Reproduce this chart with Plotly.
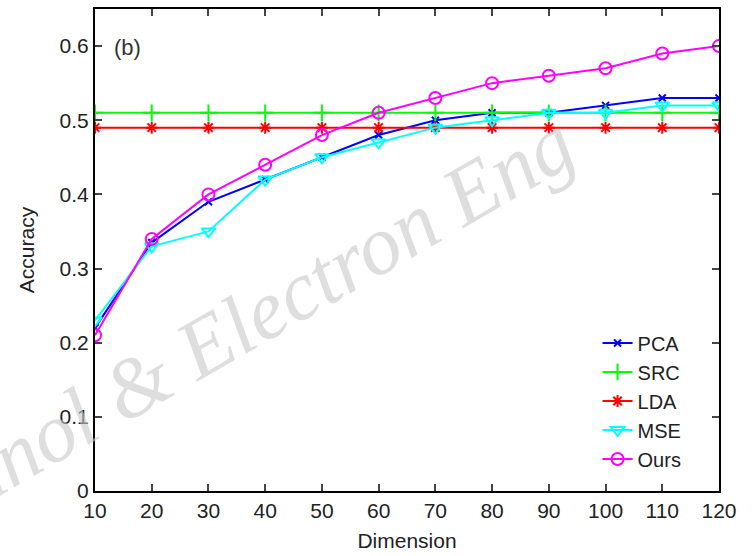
import plotly.graph_objects as go

dimension = [10, 20, 30, 40, 50, 60, 70, 80, 90, 100, 110, 120]
pca = [0.22, 0.335, 0.39, 0.42, 0.45, 0.48, 0.50, 0.51, 0.51, 0.52, 0.53, 0.53]
src = [0.51] * 12
lda = [0.49] * 12
mse = [0.23, 0.33, 0.35, 0.42, 0.45, 0.47, 0.49, 0.50, 0.51, 0.51, 0.52, 0.52]
ours = [0.21, 0.34, 0.40, 0.44, 0.48, 0.51, 0.53, 0.55, 0.56, 0.57, 0.59, 0.60]

x_ticks = dimension
y_ticks = [0, 0.1, 0.2, 0.3, 0.4, 0.5, 0.6]
y_tick_text = ["0", "0.1", "0.2", "0.3", "0.4", "0.5", "0.6"]

series = [
    ("PCA", pca, "#0000FF", "x-thin-open", 7),
    ("SRC", src, "#00FF00", "cross-thin-open", 12),
    ("LDA", lda, "#FF0000", "asterisk-open", 10),
    ("MSE", mse, "#00FFFF", "triangle-down-open", 12),
    ("Ours", ours, "#FF00FF", "circle-open", 12),
]

fig = go.Figure()
for name, vals, color, sym, size in series:
    fig.add_trace(go.Scatter(
        x=dimension, y=vals, name=name, mode="lines+markers",
        line=dict(color=color, width=2),
        marker=dict(symbol=sym, size=size, color=color, line=dict(color=color, width=2)),
    ))

font_family = "Liberation Sans, Arial, sans-serif"

fig.update_layout(
    width=753, height=556,
    margin=dict(l=95, r=34, t=7, b=65),
    paper_bgcolor="white", plot_bgcolor="white",
    font=dict(family=font_family, size=21, color="#222222"),
    xaxis=dict(
        range=[10, 120], tickvals=x_ticks, ticks="inside", ticklen=7, tickwidth=2,
        showline=True, linecolor="black", linewidth=2, mirror="ticks",
        showgrid=False, zeroline=False,
        title=dict(text="Dimension", font=dict(size=21), standoff=12),
        tickfont=dict(size=21),
    ),
    yaxis=dict(
        range=[0, 0.65], tickvals=y_ticks, ticktext=y_tick_text, ticks="inside",
        ticklen=7, tickwidth=2,
        showline=True, linecolor="black", linewidth=2, mirror="ticks",
        showgrid=False, zeroline=False,
        title=dict(text="Accuracy", font=dict(size=21), standoff=19),
        tickfont=dict(size=21),
    ),
    legend=dict(
        x=0.948, y=0.026, xanchor="right", yanchor="bottom",
        bgcolor="rgba(255,255,255,0)", font=dict(size=20, color="#222222"),
        tracegroupgap=0,
    ),
    showlegend=True,
)

fig.add_annotation(
    text="(b)", xref="paper", yref="paper", x=0.028, y=0.92,
    xanchor="left", yanchor="middle", showarrow=False,
    font=dict(size=22, color="#333333", family=font_family),
)

fig.add_annotation(
    text="<i>hnol &amp; Electron Eng</i>", xref="paper", yref="paper",
    x=0.27, y=0.375, xanchor="center", yanchor="middle", showarrow=False,
    textangle=-30,
    font=dict(size=84, color="rgba(200,200,200,0.6)", family="Liberation Serif, serif"),
)

fig.write_html("out.html", config={"displayModeBar": False},
               post_script="document.body.style.margin='0px';")
